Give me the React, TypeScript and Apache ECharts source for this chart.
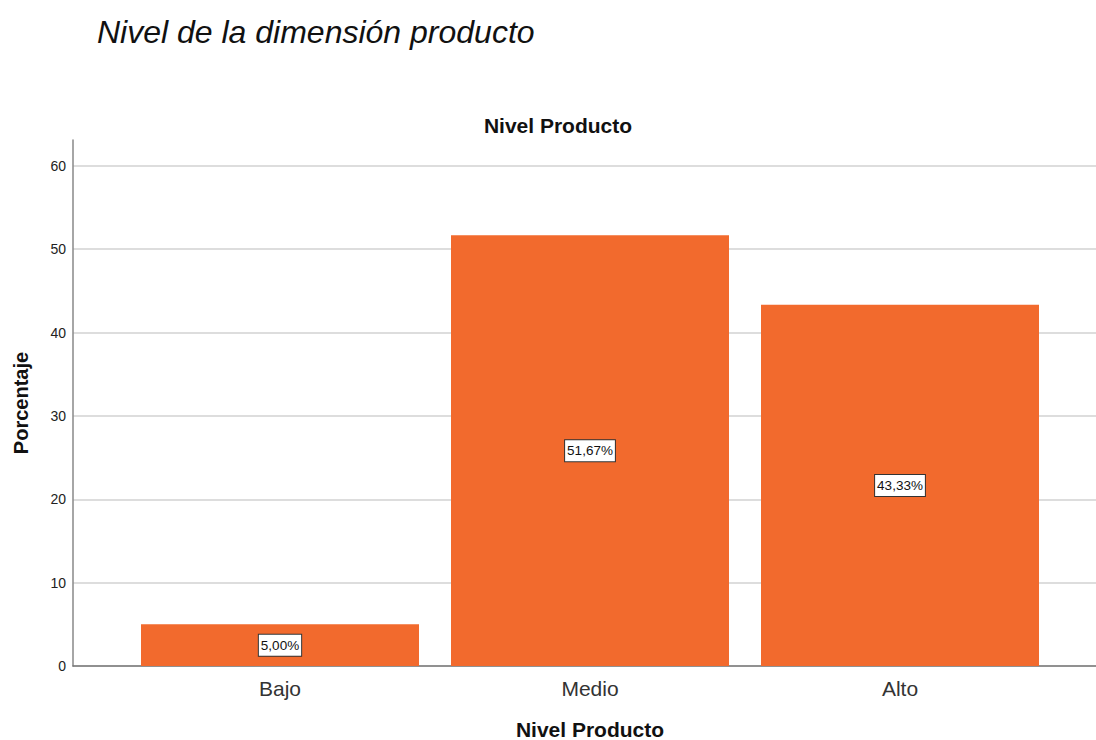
import React, { useEffect, useRef } from "react";
import * as echarts from "echarts";

const categories = ["Bajo", "Medio", "Alto"];
const percentages = [5.0, 51.67, 43.33];
const yTicks = [0, 10, 20, 30, 40, 50, 60];
const mainTitle = "Nivel de la dimensión producto";
const chartTitle = "Nivel Producto";
const xName = "Nivel Producto";
const yName = "Porcentaje";

const fmt = (v: number) => v.toFixed(2).replace(".", ",") + "%";

export default function App() {
  const ref = useRef<HTMLDivElement>(null);
  useEffect(() => {
    if (!ref.current) return;
    const chart = echarts.init(ref.current, null, { renderer: "svg" });
    const yMax = 63.1;
    chart.setOption({
      animation: false,
      backgroundColor: "#ffffff",
      textStyle: { fontFamily: "Liberation Sans, Arial, sans-serif" },
      title: [
        {
          text: mainTitle,
          left: 92,
          top: 11,
          textStyle: { fontSize: 32, fontStyle: "italic", fontWeight: "normal", color: "#111" },
        },
        {
          text: chartTitle,
          left: 553,
          textAlign: "center",
          top: 110,
          textStyle: { fontSize: 21, fontWeight: "bold", color: "#111" },
        },
      ],
      grid: [
        { left: 73, right: 0, top: 140, bottom: 74, outerBoundsMode: "none", containLabel: false },
        { left: 125, width: 930, top: 140, bottom: 74, outerBoundsMode: "none", containLabel: false },
      ],
      xAxis: [
        {
          gridIndex: 0,
          type: "value",
          min: 0,
          max: 1,
          axisLine: { show: true, lineStyle: { color: "#777", width: 1.5 } },
          axisTick: { show: false },
          axisLabel: { show: false },
          splitLine: { show: false },
        },
        {
          gridIndex: 1,
          type: "category",
          data: categories,
          axisLine: { show: false },
          axisTick: { show: false },
          axisLabel: { fontSize: 21, color: "#333", margin: 12 },
          name: xName,
          nameLocation: "middle",
          nameGap: 53,
          nameTextStyle: { fontSize: 21, fontWeight: "bold", color: "#111" },
        },
      ],
      yAxis: [
        {
          gridIndex: 0,
          type: "value",
          min: 0,
          max: yMax,
          interval: 10,
          axisLine: { show: true, lineStyle: { color: "#888", width: 1.5 } },
          axisTick: { show: false },
          axisLabel: {
            fontSize: 14,
            color: "#222",
            margin: 7,
            formatter: (v: number) => (yTicks.includes(v) ? String(v) : ""),
          },
          splitLine: { show: true, showMaxLine: false, lineStyle: { color: "#d2d2d2", width: 1.5 } },
          name: yName,
          nameLocation: "middle",
          nameGap: 42,
          nameRotate: 90,
          nameTextStyle: { fontSize: 20, fontWeight: "bold", color: "#111" },
        },
        {
          gridIndex: 1,
          type: "value",
          min: 0,
          max: yMax,
          show: false,
        },
      ],
      series: [
        {
          type: "bar",
          xAxisIndex: 1,
          yAxisIndex: 1,
          data: percentages,
          barWidth: 278,
          itemStyle: { color: "#f26a2d" },
          label: {
            show: true,
            position: "inside",
            formatter: (p: any) => fmt(p.value),
            fontSize: 13.5,
            color: "#111",
            backgroundColor: "#ffffff",
            borderColor: "#333",
            borderWidth: 1,
            padding: [4, 2, 3, 2],
          },
        },
      ],
    });
    return () => chart.dispose();
  }, []);
  return (
    <div
      ref={ref}
      style={{ position: "fixed", left: 0, top: 0, width: 1096, height: 740 }}
    />
  );
}
